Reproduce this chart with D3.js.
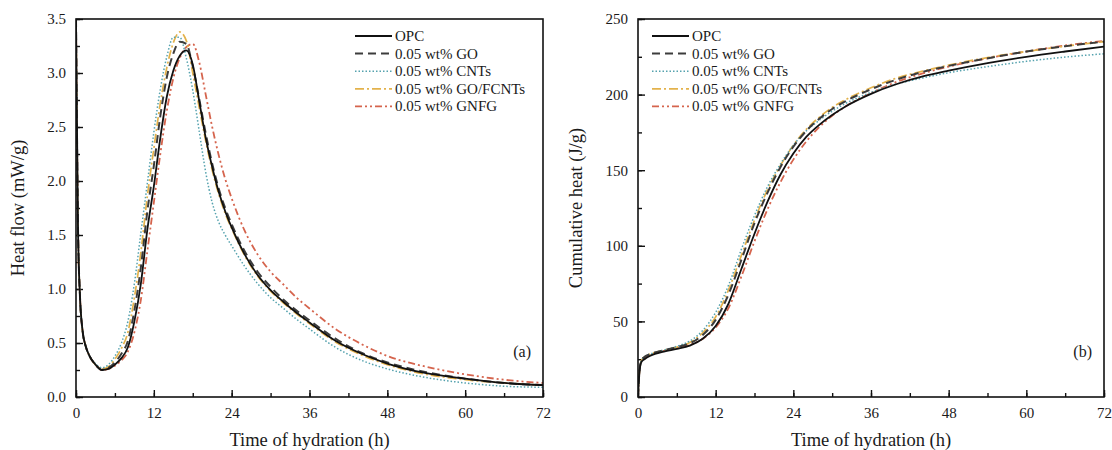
<!DOCTYPE html>
<html>
<head>
<meta charset="utf-8">
<script src="https://cdn.jsdelivr.net/npm/d3@7/dist/d3.min.js"></script>
<style>
  body { margin: 0; background: #fff; }
  svg text { font-family: "Liberation Serif", "Times New Roman", serif; fill: #1a1a1a; }
</style>
</head>
<body>
<svg id="chart" width="1112" height="450"></svg>
<script>
// series names
var seriesNames = ['OPC', '0.05 wt% GO', '0.05 wt% CNTs', '0.05 wt% GO/FCNTs', '0.05 wt% GNFG'];

// x ticks (h)
var timeTicks = [0, 12, 24, 36, 48, 60, 72];

// (a) heat flow, mW/g
var flowHours = [0, 0.3, 0.6, 1, 1.5, 2, 3, 4, 5, 6, 7, 8, 9, 10, 11, 12, 13, 14, 15, 16, 17, 18, 19, 20, 21, 22, 23, 24, 26, 28, 30, 32, 34, 36, 40, 44, 48, 54, 60, 66, 72];
var flowOPC    = [3.5, 1.6, 0.95, 0.62, 0.47, 0.39, 0.3, 0.25, 0.26, 0.3, 0.36, 0.46, 0.7, 1.05, 1.55, 1.95, 2.4, 2.78, 3.02, 3.16, 3.21, 3.08, 2.74, 2.4, 2.13, 1.9, 1.72, 1.57, 1.32, 1.13, 0.99, 0.88, 0.78, 0.69, 0.52, 0.4, 0.31, 0.22, 0.17, 0.13, 0.11];
var flowGO     = [3.5, 1.6, 0.95, 0.62, 0.47, 0.39, 0.3, 0.25, 0.27, 0.32, 0.4, 0.52, 0.8, 1.2, 1.72, 2.14, 2.6, 2.96, 3.18, 3.29, 3.27, 3.06, 2.76, 2.44, 2.16, 1.93, 1.75, 1.6, 1.35, 1.16, 1.02, 0.9, 0.8, 0.71, 0.54, 0.41, 0.32, 0.23, 0.17, 0.13, 0.11];
var flowCNTs   = [3.5, 1.6, 0.95, 0.62, 0.47, 0.39, 0.31, 0.27, 0.3, 0.38, 0.5, 0.7, 1.05, 1.52, 1.98, 2.45, 2.85, 3.15, 3.33, 3.33, 3.14, 2.84, 2.46, 2.08, 1.8, 1.62, 1.5, 1.4, 1.21, 1.05, 0.92, 0.82, 0.72, 0.63, 0.46, 0.34, 0.26, 0.18, 0.13, 0.1, 0.09];
var flowGOFC   = [3.5, 1.6, 0.95, 0.62, 0.47, 0.39, 0.3, 0.26, 0.28, 0.35, 0.45, 0.6, 0.92, 1.34, 1.86, 2.3, 2.72, 3.05, 3.28, 3.38, 3.3, 3.0, 2.68, 2.37, 2.1, 1.88, 1.7, 1.56, 1.31, 1.12, 0.98, 0.87, 0.77, 0.68, 0.51, 0.39, 0.3, 0.21, 0.16, 0.13, 0.11];
var flowGNFG   = [3.5, 1.6, 0.95, 0.62, 0.47, 0.39, 0.3, 0.25, 0.26, 0.29, 0.34, 0.42, 0.6, 0.9, 1.35, 1.8, 2.25, 2.65, 2.95, 3.14, 3.24, 3.27, 3.1, 2.8, 2.5, 2.24, 2.02, 1.84, 1.54, 1.32, 1.16, 1.04, 0.92, 0.82, 0.63, 0.49, 0.38, 0.28, 0.21, 0.16, 0.13];
var flowTicks = [0, 0.5, 1, 1.5, 2, 2.5, 3, 3.5];

// (b) cumulative heat, J/g
var heatHours = [0, 0.2, 0.5, 1, 2, 4, 6, 8, 10, 12, 14, 16, 18, 20, 22, 24, 26, 28, 30, 32, 36, 40, 44, 48, 54, 60, 66, 72];
var heatOPC    = [0, 15, 23, 25, 27.5, 30, 31.8, 34, 38.5, 47, 62, 85, 108, 129, 147, 161, 172, 180, 186.5, 192, 200.5, 207, 212, 215.8, 220.8, 225, 228.5, 231.7];
var heatGO     = [0, 16, 24, 26.5, 28.5, 31, 33, 35.5, 41, 51, 68, 91, 115, 135, 152, 165.5, 176, 184, 190.5, 195.5, 203.5, 210, 215, 219, 224, 228.5, 232, 235];
var heatCNTs   = [0, 16, 24, 26.5, 28.5, 31, 33.5, 37, 44, 56, 74, 98, 120, 139, 154, 166.5, 176, 183, 189, 194, 201.5, 207, 211, 214.5, 218.5, 222, 224.8, 227];
var heatGOFC   = [0, 16, 24, 26.5, 28.5, 31, 33, 36, 42.5, 53, 71, 94, 117, 137, 153, 166.5, 177, 185, 191.5, 196.5, 204.5, 211, 215.5, 219.5, 224.5, 228.5, 232, 235];
var heatGNFG   = [0, 16, 24, 26, 28, 30.5, 32.5, 34.5, 38.5, 46, 59, 80, 103, 124, 142, 157, 169, 178.5, 186, 192, 201, 208.5, 214, 218.5, 224, 228.5, 232.5, 235.5];
var heatTicks = [0, 50, 100, 150, 200, 250];

var styles = [
  { color: '#111111', dash: null,            width: 1.8 },
  { color: '#3c3c3c', dash: '8,5',           width: 2 },
  { color: '#55a2ae', dash: '1.5,2',         width: 1.5 },
  { color: '#e3b24c', dash: '9,3,2,3',       width: 1.7 },
  { color: '#d5644d', dash: '7,3,2,3,2,3',   width: 1.8 }
];

var svg = d3.select('#chart');

function drawPanel(opt) {
  var x = d3.scaleLinear().domain([0, 72]).range([opt.left, opt.right]);
  var y = d3.scaleLinear().domain(opt.yDomain).range([397, 19]);

  var g = svg.append('g');

  g.append('clipPath').attr('id', opt.id + '-clip')
    .append('rect')
    .attr('x', opt.left).attr('y', 19)
    .attr('width', opt.right - opt.left).attr('height', 378);

  // x axis with inward ticks
  var xMinor = d3.range(0, 73, 6);
  g.append('g')
    .attr('transform', 'translate(0,397)')
    .call(d3.axisBottom(x).tickValues(xMinor).tickSize(-4).tickFormat(''))
    .call(function(s) { s.select('.domain').remove(); });
  g.append('g')
    .attr('transform', 'translate(0,397)')
    .call(d3.axisBottom(x).tickValues(timeTicks).tickSize(-7).tickPadding(10).tickFormat(d3.format('d')))
    .call(function(s) {
      s.select('.domain').remove();
      s.selectAll('text').style('font-size', '15px');
    });

  // y axis
  var step = opt.yTicks[1] - opt.yTicks[0];
  var yMinor = d3.range(opt.yDomain[0], opt.yDomain[1] + 1e-9, step / 2);
  g.append('g')
    .attr('transform', 'translate(' + opt.left + ',0)')
    .call(d3.axisLeft(y).tickValues(yMinor).tickSize(-4).tickFormat(''))
    .call(function(s) { s.select('.domain').remove(); });
  g.append('g')
    .attr('transform', 'translate(' + opt.left + ',0)')
    .call(d3.axisLeft(y).tickValues(opt.yTicks).tickSize(-7).tickPadding(10).tickFormat(opt.yFormat))
    .call(function(s) {
      s.select('.domain').remove();
      s.selectAll('text').style('font-size', '15px');
    });

  g.selectAll('.tick line').attr('stroke', '#111').attr('stroke-width', 1.4);

  var line = d3.line()
    .x(function(d) { return x(d[0]); })
    .y(function(d) { return y(d[1]); })
    .curve(d3.curveMonotoneX);

  var lines = g.append('g').attr('clip-path', 'url(#' + opt.id + '-clip)');
  // draw in reverse so OPC sits on top
  d3.range(opt.series.length - 1, -1, -1).forEach(function(i) {
    var pts = opt.hours.map(function(h, k) { return [h, opt.series[i][k]]; });
    lines.append('path')
      .attr('d', line(pts))
      .attr('fill', 'none')
      .attr('stroke', styles[i].color)
      .attr('stroke-width', styles[i].width)
      .attr('stroke-dasharray', styles[i].dash);
  });

  // frame
  g.append('rect')
    .attr('x', opt.left).attr('y', 19)
    .attr('width', opt.right - opt.left).attr('height', 378)
    .attr('fill', 'none').attr('stroke', '#111').attr('stroke-width', 1.6);

  // legend
  var leg = g.append('g');
  seriesNames.forEach(function(name, i) {
    var ly = 36 + i * 17.6;
    leg.append('line')
      .attr('x1', opt.legendX).attr('x2', opt.legendX + 37)
      .attr('y1', ly).attr('y2', ly)
      .attr('stroke', styles[i].color)
      .attr('stroke-width', styles[i].width)
      .attr('stroke-dasharray', styles[i].dash);
    leg.append('text')
      .attr('x', opt.legendX + 40).attr('y', ly + 5)
      .style('font-size', '15px')
      .text(name);
  });

  // panel tag
  g.append('text')
    .attr('x', opt.right - 12).attr('y', 357)
    .attr('text-anchor', 'end')
    .style('font-size', '16px')
    .text(opt.tag);

  // axis titles
  g.append('text')
    .attr('x', (opt.left + opt.right) / 2).attr('y', 446)
    .attr('text-anchor', 'middle')
    .style('font-size', '18.5px')
    .text('Time of hydration (h)');

  g.append('text')
    .attr('transform', 'translate(' + opt.yLabelX + ',208) rotate(-90)')
    .attr('text-anchor', 'middle')
    .style('font-size', '18.5px')
    .text(opt.yLabel);
}

drawPanel({
  id: 'a', left: 76, right: 543,
  yDomain: [0, 3.5], yTicks: flowTicks, yFormat: d3.format('.1f'),
  hours: flowHours,
  series: [flowOPC, flowGO, flowCNTs, flowGOFC, flowGNFG],
  legendX: 355, tag: '(a)',
  yLabel: 'Heat flow (mW/g)', yLabelX: 24
});

drawPanel({
  id: 'b', left: 638, right: 1104,
  yDomain: [0, 250], yTicks: heatTicks, yFormat: d3.format('d'),
  hours: heatHours,
  series: [heatOPC, heatGO, heatCNTs, heatGOFC, heatGNFG],
  legendX: 652, tag: '(b)',
  yLabel: 'Cumulative heat (J/g)', yLabelX: 582
});
</script>
</body>
</html>
